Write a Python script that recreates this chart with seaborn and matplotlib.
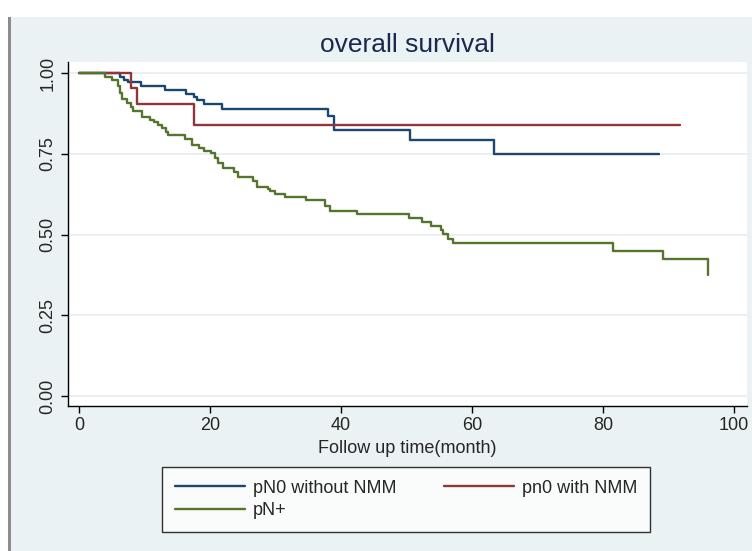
import pandas as pd
import matplotlib
matplotlib.use('Agg')
import matplotlib.pyplot as plt
import seaborn as sns
from matplotlib.patches import Rectangle

# Curvas de supervivencia (tiempo en meses, S(t))
t_pn0_sin = [0, 6.3, 6.9, 7.5, 9.5, 13.1, 16.4, 17.5, 18.0, 19.0, 21.9, 38.0, 38.9, 50.6, 63.3, 88.5]
s_pn0_sin = [1.0, 0.99, 0.979, 0.972, 0.962, 0.949, 0.935, 0.926, 0.917, 0.904, 0.888, 0.868, 0.824, 0.793, 0.750, 0.750]

t_pn0_con = [0, 7.9, 8.8, 17.5, 91.7]
s_pn0_con = [1.0, 0.953, 0.905, 0.840, 0.840]

t_pn_pos = [0, 4.0, 5.0, 5.9, 6.2, 6.6, 7.3, 8.0, 8.3, 9.6, 10.9, 11.5, 12.0, 12.6, 13.3, 13.6,
            16.2, 17.2, 18.3, 19.0, 20.2, 20.8, 21.2, 22.0, 23.6, 24.3, 26.6, 27.1, 28.8, 29.1,
            29.9, 31.4, 34.7, 37.6, 38.3, 42.4, 50.4, 52.3, 53.8, 55.3, 55.6, 56.3, 57.1, 81.5,
            89.2, 96.0]
s_pn_pos = [1.0, 0.99, 0.98, 0.96, 0.94, 0.92, 0.907, 0.895, 0.883, 0.866, 0.855, 0.848, 0.84,
            0.83, 0.819, 0.809, 0.795, 0.778, 0.768, 0.76, 0.752, 0.737, 0.722, 0.706, 0.695,
            0.68, 0.665, 0.649, 0.64, 0.636, 0.626, 0.618, 0.607, 0.59, 0.574, 0.564, 0.551,
            0.538, 0.527, 0.514, 0.501, 0.486, 0.473, 0.450, 0.425, 0.375]

grupos = ['pN0 without NMM', 'pn0 with NMM', 'pN+']
colores = ['#1a476f', '#90353b', '#55752f']

x_ticks = [0, 20, 40, 60, 80, 100]
y_ticks = [0.0, 0.25, 0.5, 0.75, 1.0]
y_labels = ['0.00', '0.25', '0.50', '0.75', '1.00']

df = pd.concat([
    pd.DataFrame({'time': t_pn0_sin, 'surv': s_pn0_sin, 'group': grupos[0]}),
    pd.DataFrame({'time': t_pn0_con, 'surv': s_pn0_con, 'group': grupos[1]}),
    pd.DataFrame({'time': t_pn_pos, 'surv': s_pn_pos, 'group': grupos[2]}),
], ignore_index=True)

sns.set_style('white')
plt.rcParams['font.family'] = ['Liberation Sans', 'DejaVu Sans']

fig = plt.figure(figsize=(7.52, 5.51), dpi=100, facecolor='white')
# fondo estilo Stata
fig.patches.append(Rectangle((11 / 752, 0), 741 / 752, 534 / 551, transform=fig.transFigure,
                             facecolor='#EAF2F3', edgecolor='none', zorder=-2))
fig.patches.append(Rectangle((8 / 752, 0), 3 / 752, 534 / 551, transform=fig.transFigure,
                             facecolor='#8c8c8c', edgecolor='none', zorder=-1))

ax = fig.add_axes([67.5 / 752, 1 - 406 / 551, (747 - 67.5) / 752, (406 - 62) / 551])
ax.set_facecolor('white')

sns.lineplot(data=df, x='time', y='surv', hue='group', hue_order=grupos, palette=colores,
             drawstyle='steps-post', estimator=None, sort=False, linewidth=1.7,
             legend=False, ax=ax)

ax.set_xlim(-1.77, 102.0)
ax.set_ylim(-0.031, 1.035)
ax.set_xticks(x_ticks)
ax.set_yticks(y_ticks)
ax.set_yticklabels(y_labels, rotation=90, va='center')
ax.tick_params(axis='both', direction='out', length=5, width=1, color='black',
               labelsize=13, pad=3, left=True, bottom=True)
ax.yaxis.grid(True, color='#E6EEF0', linewidth=1.2)
ax.xaxis.grid(False)
for s in ['top', 'right']:
    ax.spines[s].set_visible(False)
for s in ['left', 'bottom']:
    ax.spines[s].set_color('black')
    ax.spines[s].set_linewidth(1)

ax.set_xlabel('Follow up time(month)', fontsize=13, labelpad=4)
ax.set_ylabel('')
ax.set_title('overall survival', fontsize=19, color='#1a2a4e', pad=7)

lineas = ax.get_lines()
handles = [lineas[0], lineas[2], lineas[1]]
labels = [grupos[0], grupos[2], grupos[1]]
leg = fig.legend(handles, labels, ncol=2, loc='center', bbox_to_anchor=(406 / 752, 1 - 499.5 / 551),
                 fontsize=13, frameon=True, fancybox=False, edgecolor='black', facecolor='white',
                 handlelength=3.9, handletextpad=0.4, columnspacing=2.65, borderpad=0.7,
                 labelspacing=0.3)
leg.get_frame().set_linewidth(1)

fig.savefig('out.png', dpi=100, facecolor=fig.get_facecolor())
